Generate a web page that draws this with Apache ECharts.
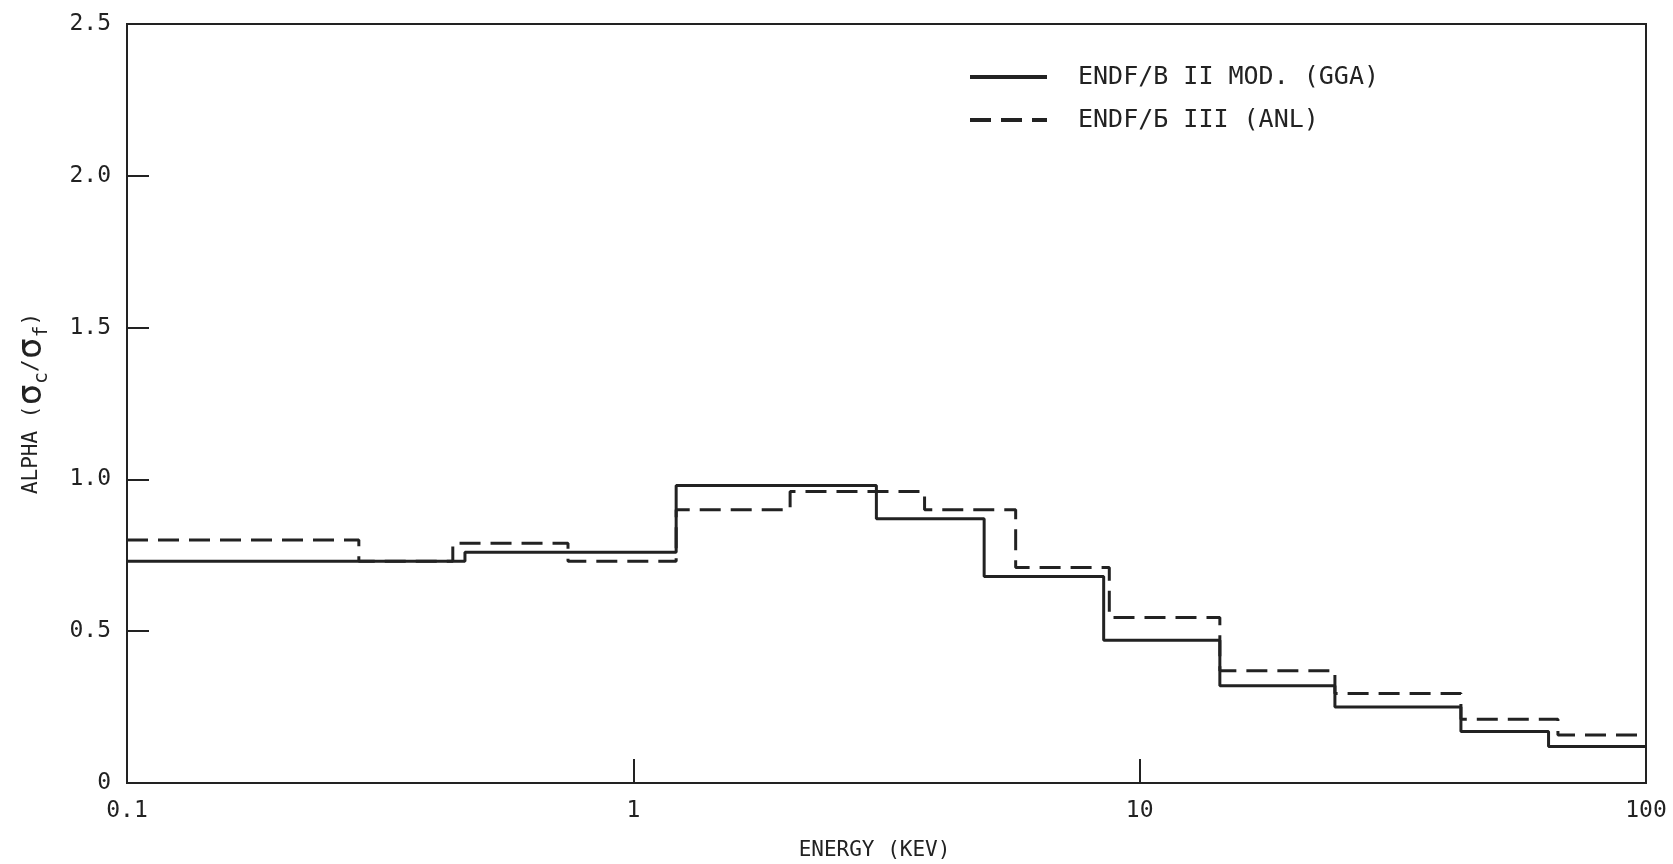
<!DOCTYPE html>
<html>
<head>
<meta charset="utf-8">
<title>ALPHA vs ENERGY</title>
<script src="https://cdn.jsdelivr.net/npm/echarts@6/dist/echarts.min.js"></script>
<style>
  html, body { margin: 0; padding: 0; background: #ffffff; }
  #chart { width: 1673px; height: 864px; }
</style>
</head>
<body>
<div id="chart"></div>
<script>
// Group boundaries (keV) and group-averaged alpha = sigma_c / sigma_f
const ggaEdges  = [0.1, 0.465, 1.215, 3.02, 4.93, 8.49, 14.4, 24.3, 43.1, 64.2, 100];
const ggaValues = [0.73, 0.76, 0.98, 0.87, 0.68, 0.47, 0.32, 0.25, 0.17, 0.12];

const anlEdges  = [0.1, 0.287, 0.44, 0.743, 1.215, 2.04, 3.76, 5.69, 8.71, 14.4, 24.3, 43.1, 67.0, 100];
const anlValues = [0.80, 0.73, 0.79, 0.73, 0.90, 0.96, 0.90, 0.71, 0.545, 0.37, 0.295, 0.21, 0.158];

const seriesNames = ['ENDF/B II MOD. (GGA)', 'ENDF/Б III (ANL)'];
const xTickValues = [0.1, 1, 10, 100];

// Turn group edges + values into a histogram outline
function histogram(edges, values) {
  const pts = [];
  for (let i = 0; i < values.length; i++) {
    pts.push([edges[i], values[i]]);
    pts.push([edges[i + 1], values[i]]);
  }
  return pts;
}

const INK = '#222222';
const FONT = '"DejaVu Sans Mono", "Liberation Mono", monospace';

const chart = echarts.init(document.getElementById('chart'), null, { renderer: 'canvas' });

chart.setOption({
  backgroundColor: '#ffffff',
  animation: false,
  grid: {
    left: 127, right: 27, top: 24, bottom: 81,
    outerBoundsMode: 'none', containLabel: false,
    show: true, borderColor: INK, borderWidth: 2, backgroundColor: 'transparent'
  },
  legend: {
    orient: 'vertical',
    left: 963, top: 58,
    itemWidth: 77, itemHeight: 12, itemGap: 15,
    data: seriesNames,
    itemStyle: { opacity: 0, borderWidth: 0 },
    lineStyle: { width: 4 },
    textStyle: { fontFamily: FONT, fontSize: 25, color: INK, padding: [0, 0, 0, 26], lineHeight: 28 }
  },
  xAxis: {
    type: 'log', logBase: 10, min: 0.1, max: 100,
    name: 'ENERGY (KEV)', nameLocation: 'middle', nameGap: 57,
    nameTextStyle: { fontFamily: FONT, fontSize: 21, color: INK, padding: [0, 24, 0, 0] },
    axisLine: { show: true, onZero: false, lineStyle: { color: INK, width: 2 } },
    axisTick: { show: true, inside: true, length: 24, lineStyle: { color: INK, width: 2 },
      customValues: xTickValues },
    axisLabel: { fontFamily: FONT, fontSize: 23, color: INK, margin: 17,
      customValues: xTickValues, formatter: v => String(v) },
    minorTick: { show: false },
    splitLine: { show: false }
  },
  yAxis: {
    type: 'value', min: 0, max: 2.5, interval: 0.5,
    name: '{t|ALPHA (}{s|σ}{b|c}{t|/}{s|σ}{b|f}{t|)}',
    nameLocation: 'middle', nameRotate: 90, nameGap: 75,
    nameTextStyle: {
      color: INK,
      rich: {
        t: { fontFamily: FONT, fontSize: 21, color: INK, lineHeight: 40, verticalAlign: 'middle' },
        s: { fontFamily: FONT, fontSize: 36, color: INK, lineHeight: 40, verticalAlign: 'middle' },
        b: { fontFamily: FONT, fontSize: 20, color: INK, lineHeight: 40, verticalAlign: 'bottom' }
      }
    },
    axisLine: { show: true, lineStyle: { color: INK, width: 2 } },
    axisTick: { show: true, inside: true, length: 22, lineStyle: { color: INK, width: 2 } },
    axisLabel: { fontFamily: FONT, fontSize: 23, color: INK, margin: 16,
      formatter: v => (v === 0 ? '0' : v.toFixed(1)) },
    splitLine: { show: false }
  },
  series: [
    {
      name: seriesNames[0], type: 'line', data: histogram(ggaEdges, ggaValues),
      symbol: 'none', z: 3,
      lineStyle: { color: INK, width: 3, type: 'solid' },
      itemStyle: { color: INK }
    },
    {
      name: seriesNames[1], type: 'line', data: histogram(anlEdges, anlValues),
      symbol: 'none', z: 2,
      lineStyle: { color: INK, width: 3, type: [21, 10] },
      itemStyle: { color: INK }
    }
  ]
});
</script>
</body>
</html>
